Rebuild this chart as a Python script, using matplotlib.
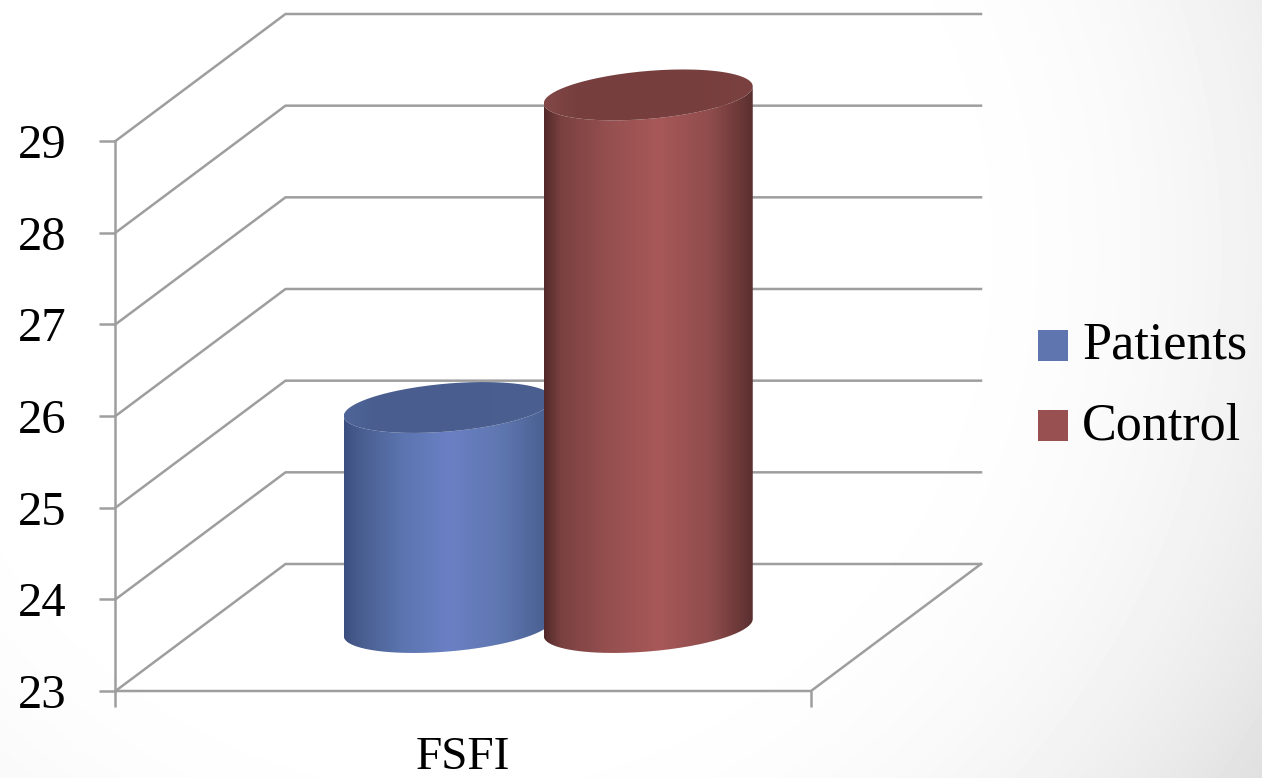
import numpy as np
import matplotlib.pyplot as plt
from matplotlib.colors import LinearSegmentedColormap
from matplotlib.patches import Patch, PathPatch
from matplotlib.path import Path

categories = ['FSFI']
series_names = ['Patients', 'Control']
series_values = [25.40, 28.81]
y_ticks = [23, 24, 25, 26, 27, 28, 29]

W, H = 1262, 778
GRID = '#9e9e9e'

blue_side = [(0, '#3b4f7f'), (0.07, '#485d8e'), (0.28, '#5c75b0'), (0.5, '#6a80c4'),
             (0.75, '#5f77b0'), (1, '#465c8c')]
red_side = [(0, '#532929'), (0.08, '#7a4040'), (0.3, '#954f4f'), (0.55, '#a85858'),
            (0.8, '#8f4c4c'), (1, '#5b2f2f')]
blue_top = [(0, '#4f659a'), (0.15, '#495e8e'), (0.7, '#4a5f8f'), (1, '#4b608f')]
red_top = [(0, '#834747'), (0.15, '#773f3f'), (0.7, '#773e3e'), (1, '#7b4141')]
colors = ['#5f75b0', '#985050']
side_maps = [blue_side, red_side]
top_maps = [blue_top, red_top]


def px_axes(fig, x0, x1, y_top, y_bot):
    return fig.add_axes([x0 / W, 1 - y_bot / H, (x1 - x0) / W, (y_bot - y_top) / H])


def draw_background(fig):
    bg = fig.add_axes([0, 0, 1, 1], zorder=-1)
    yy, xx = np.mgrid[0:H, 0:W]
    r = np.hypot(xx - 450, yy - 250)
    shade = 1 - 0.125 * (np.clip(r - 400, 0, None) / 568) ** 2.5
    bg.imshow(shade, cmap='gray', vmin=0, vmax=1, aspect='auto')
    bg.axis('off')


def draw_walls(ax, dx, dy):
    for v in y_ticks:
        ax.plot([0, dx, 1 + dx], [v, v + dy, v + dy], color=GRID, lw=1.8, clip_on=False, zorder=1)
    ax.plot([0, 0], [y_ticks[0], y_ticks[-1]], color=GRID, lw=1.8, clip_on=False, zorder=1)
    ax.plot([0, 1, 1 + dx], [23, 23, 23 + dy], color=GRID, lw=1.8, clip_on=False, zorder=1)


def shaded(ax, verts, stops, cx, half, y0, y1, z):
    # horizontal gradient clipped to the outline
    cmap = LinearSegmentedColormap.from_list('s', stops)
    clip = PathPatch(Path(verts), transform=ax.transData, fc='none', ec='none', clip_on=False)
    ax.add_patch(clip)
    im = ax.imshow(np.linspace(0, 1, 256)[None, :], cmap=cmap, aspect='auto', origin='lower',
                   extent=[cx - half, cx + half, y0, y1], zorder=z, interpolation='bilinear')
    im.set_clip_box(ax.figure.bbox)
    im.set_clip_path(clip)


def draw_cylinder(ax, cx, value, half, ry, tilt, dy, side, top, z):
    base = 23 + dy / 2
    t = np.linspace(np.pi, 2 * np.pi, 120)
    front_x = cx + half * np.cos(t)
    front_y = tilt * np.cos(t) + ry * np.sin(t)
    low = np.column_stack([front_x, base + front_y])
    up = np.column_stack([front_x[::-1], base + value - 23 + front_y[::-1]])
    y_low = base - 0.5
    y_high = base + value - 23 + 0.5
    shaded(ax, np.vstack([low, up, low[:1]]), side, cx, half, y_low, y_high, z)
    t = np.linspace(0, 2 * np.pi, 240)
    ring = np.column_stack([cx + half * np.cos(t),
                            base + value - 23 + tilt * np.cos(t) + ry * np.sin(t)])
    shaded(ax, ring, top, cx, half, y_low, y_high, z + 0.1)


fig = plt.figure(figsize=(W / 100, H / 100), dpi=100)
draw_background(fig)

ax = px_axes(fig, 115.5, 811, 141, 691)
ax.patch.set_alpha(0)

px_x = 1 / 695.5
px_y = 6 / 550
depth_x = 170 * px_x
depth_y = 127 * px_y

draw_walls(ax, depth_x, depth_y)

bar_half = 104.5 * px_x
bar_step = 200 * px_x
centre = 0.5 + depth_x / 2
offsets = [-bar_step / 2, bar_step / 2]
for i, val in enumerate(series_values):
    draw_cylinder(ax, centre + offsets[i], val, bar_half, 24 * px_y, 8.5 * px_y,
                  depth_y, side_maps[i], top_maps[i], 3 + i)

ax.set_xlim(0, 1)
ax.set_ylim(23, 29)
for s in ax.spines.values():
    s.set_visible(False)

ax.set_yticks(y_ticks)
ax.set_yticklabels([str(v) for v in y_ticks], fontsize=35, family='Liberation Serif')
ax.tick_params(axis='y', length=11.5, width=1.8, color=GRID, pad=24, labelcolor='black')
ax.set_xticks([0, 1])
ax.set_xticklabels(['', ''])
ax.tick_params(axis='x', length=11.5, width=1.8, color=GRID)
ax.text(0.5, -0.122, categories[0], transform=ax.transAxes, ha='center', va='center',
        fontsize=34, family='Liberation Serif', color='black')

handles = [Patch(facecolor=c, edgecolor='none', label=n) for c, n in zip(colors, series_names)]
leg = ax.legend(handles=handles, loc='center left', bbox_to_anchor=(1038 / W, 1 - 386 / H),
                bbox_transform=fig.transFigure, frameon=False, borderpad=0, borderaxespad=0,
                prop={'family': 'Liberation Serif', 'size': 37.5}, labelcolor='black',
                handlelength=0.58, handleheight=0.55, handletextpad=0.27, labelspacing=0.62)
for p in leg.get_patches():
    p.set_y(p.get_y() - 3.6)

fig.savefig('out.png', dpi=100)
